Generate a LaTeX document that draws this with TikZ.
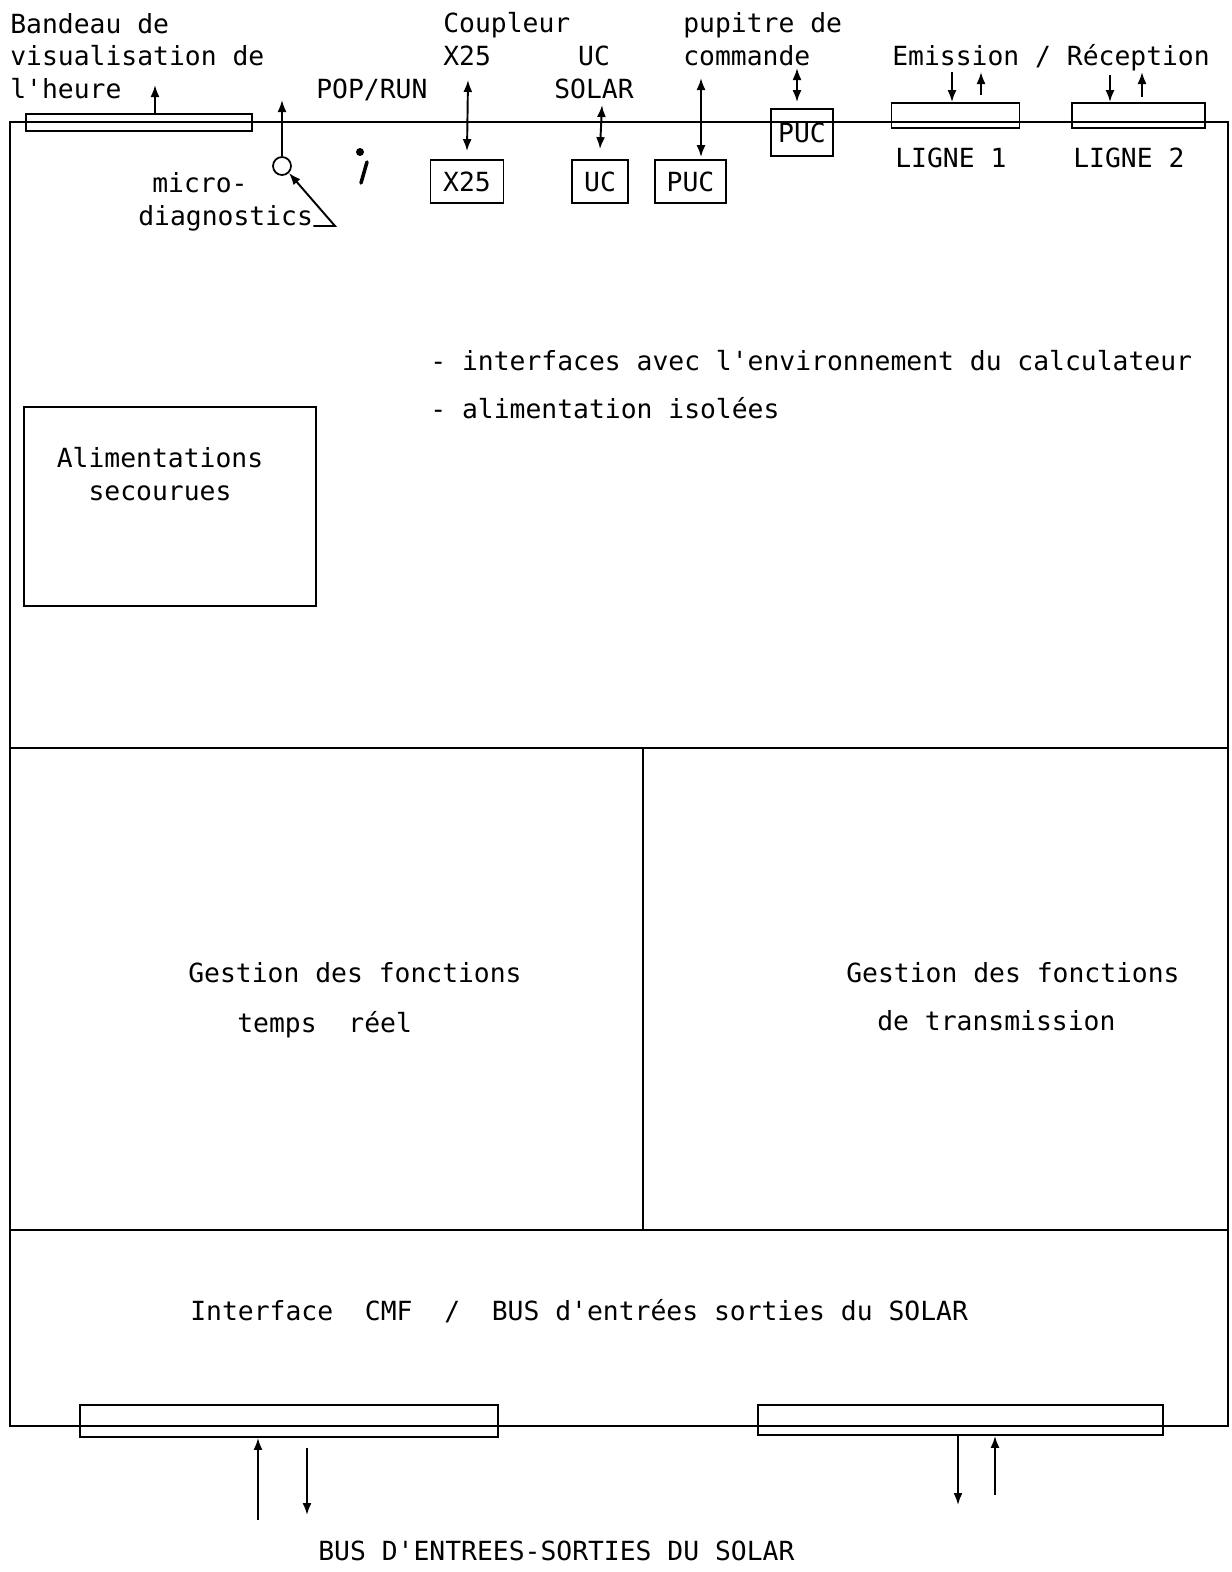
\documentclass[tikz,border=0pt]{standalone}
\usepackage{fontspec}
\setmonofont{DejaVu Sans Mono}
\usetikzlibrary{arrows.meta}

\tikzset{
  txt/.style={anchor=base west, inner sep=0pt, font=\ttfamily\fontsize{15}{18.4}\selectfont},
  boite/.style={draw, line width=1pt, inner sep=0pt, font=\ttfamily\fontsize{15}{18.4}\selectfont},
  sig/.style={line width=1.1pt, -{Latex[length=2.4mm,width=1.8mm]}},
  dsig/.style={line width=1.1pt, {Latex[length=2.4mm,width=1.8mm]}-{Latex[length=2.4mm,width=1.8mm]}},
}

\begin{document}
\begin{tikzpicture}[x=0.2mm, y=-0.2mm]
\useasboundingbox (0,0) rectangle (1231,1572);
% cadre
\draw[line width=1pt] (10,122) rectangle (1228,1426);
\draw[line width=1pt] (10,748) -- (1228,748);
\draw[line width=1pt] (10,1230) -- (1228,1230);
\draw[line width=1pt] (643,748) -- (643,1230);

% bandeau
\node[txt, align=left] (bandeautxt) at (10,98) {Bandeau de\\visualisation de\\l'heure};
\node[boite, minimum width=45.2mm, minimum height=3.4mm] (bandeau) at (139,122.5) {};
\coordinate (bandeauout) at (155,85);
\draw[sig] (bandeau.north -| bandeauout) -- (bandeauout);

% pop/run et micro-diagnostics
\node[txt] (poprun) at (316,98) {POP/RUN};
\node[draw, circle, line width=1pt, minimum size=3.6mm, inner sep=0pt] (diag) at (282,166) {};
\coordinate (diagout) at (282,100);
\draw[sig] (diag.north) -- (diagout);
\fill (360,152) circle (0.8mm);
\draw[line width=2pt, line cap=round] (367,162) -- (361,183);
\node[txt, align=left] (diagtxt) at (138,225) {\hspace*{2.8mm}micro-\\diagnostics};
\coordinate (diagpt) at (335,226);
\draw[sig] ([yshift=-0.2mm]diagtxt.base east) -- (diagpt) -- (diag.south east);

% coupleur X25
\node[txt, align=left] (coupleurtxt) at (443,65) {Coupleur\\X25};
\node[boite, minimum width=14.6mm, minimum height=8.6mm] (x25) at (467,181.5) {X25};
\coordinate (x25ext) at (468,80);
\draw[dsig] (x25ext) -- ([yshift=1.6mm]x25.north);

% UC SOLAR
\node[txt, anchor=base, align=center] (uctxt) at (594,98) {UC\\SOLAR};
\node[boite, minimum width=11.2mm, minimum height=8.6mm] (uc) at (600,181.5) {UC};
\coordinate (ucext) at (602,105);
\draw[dsig] (ucext) -- ([yshift=2mm]uc.north);

% pupitre
\node[txt, align=left] (pupitretxt) at (683,65) {pupitre de\\commande};
\node[boite, minimum width=14.2mm, minimum height=8.6mm] (puc) at (690.5,181.5) {PUC};
\coordinate (pucext) at (701,78);
\draw[dsig] (pucext) -- ([xshift=2.1mm,yshift=0.4mm]puc.north);
\node[boite, minimum width=12.4mm, minimum height=9.4mm] (puctop) at (802,132.5) {PUC};
\coordinate (puctopext) at (797,68);
\draw[dsig] (puctopext) -- ([xshift=-1mm,yshift=1.2mm]puctop.north);

% lignes
\node[txt] (emrec) at (892,65) {Emission / Réception};
\node[boite, minimum width=25.6mm, minimum height=5mm] (ligne1) at (955.5,115.5) {};
\node[boite, minimum width=26.6mm, minimum height=5mm] (ligne2) at (1138.5,115.5) {};
\coordinate (l1in) at (952,72);
\coordinate (l1out) at (981,72);
\coordinate (l2in) at (1110,75);
\coordinate (l2out) at (1142,72);
\draw[sig] (l1in) -- (l1in |- ligne1.north);
\draw[sig, shorten <=1.4mm] (l1out |- ligne1.north) -- (l1out);
\draw[sig] (l2in) -- (l2in |- ligne2.north);
\draw[sig, shorten <=1mm] (l2out |- ligne2.north) -- (l2out);
\node[txt] (l1txt) at (895,167) {LIGNE 1};
\node[txt] (l2txt) at (1073,167) {LIGNE 2};

% environnement
\node[txt] (env1) at (430,370) {- interfaces avec l'environnement du calculateur};
\node[txt] (env2) at (430,418) {- alimentation isolées};
\node[draw, line width=1pt, minimum width=58.4mm, minimum height=39.8mm] (alim) at (170,506.5) {};
\node[txt, anchor=base, align=center] (alimtxt) at (160,500) {Alimentations\\secourues};

% gestion
\node[txt] (rt1) at (188,982) {Gestion des fonctions};
\node[txt] (rt2) at (237,1032) {temps~~réel};
\node[txt] (tr1) at (846,982) {Gestion des fonctions};
\node[txt] (tr2) at (877,1030) {de transmission};
\node[txt] (cmf) at (190,1320) {Interface~~CMF~~/~~BUS d'entrées sorties du SOLAR};

% bus
\node[boite, minimum width=83.6mm, minimum height=6.4mm] (busl) at (289,1421) {};
\node[boite, minimum width=81mm, minimum height=6mm] (busr) at (960.5,1420) {};
\coordinate (bl1) at (258,1520);
\coordinate (bl2) at (307,1515);
\coordinate (br1) at (958,1505);
\coordinate (br2) at (995,1495);
\draw[sig] (bl1) -- (bl1 |- busl.south);
\draw[sig, shorten <=2mm] (bl2 |- busl.south) -- (bl2);
\draw[sig] (br1 |- busr.south) -- (br1);
\draw[sig] (br2) -- (br2 |- busr.south);
\node[txt] (bus) at (318,1560) {BUS D'ENTREES-SORTIES DU SOLAR};
\end{tikzpicture}
\end{document}
